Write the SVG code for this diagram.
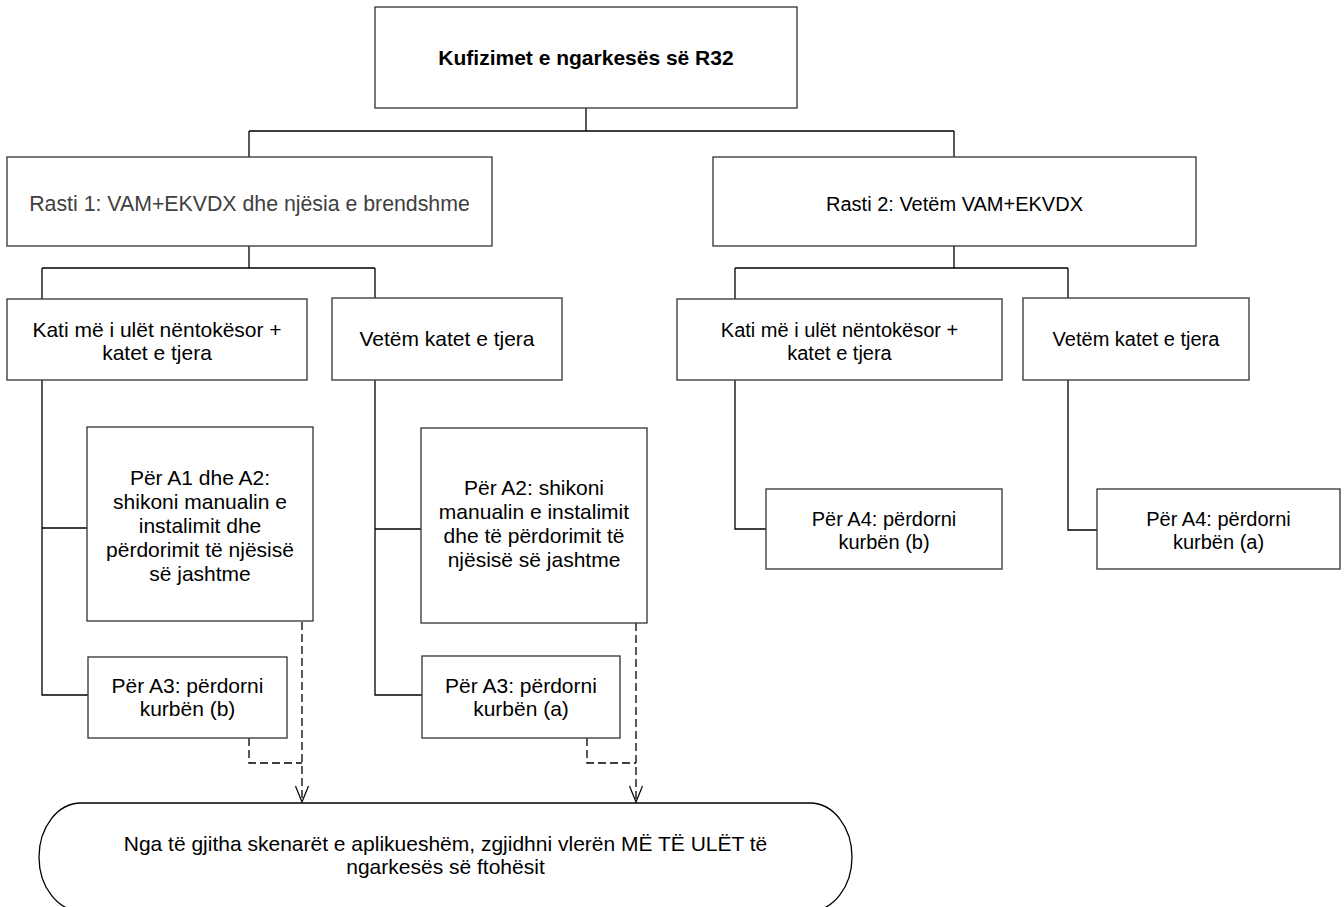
<svg xmlns="http://www.w3.org/2000/svg" width="1344" height="907" viewBox="0 0 1344 907">
<defs>
<style>
.box{fill:#fff;stroke:#404040;stroke-width:1.4}
.t{font-family:"Liberation Sans",Arial,sans-serif;font-size:21px;fill:#000;text-anchor:middle}
.r{font-size:20px}
.g{fill:#404040}
.b{font-weight:bold}
.c{fill:none;stroke:#000;stroke-width:1.3}
.d{fill:none;stroke:#000;stroke-width:1.3;stroke-dasharray:8 4}
</style>
<marker id="arr" markerWidth="18" markerHeight="16" refX="17" refY="8" orient="auto" markerUnits="userSpaceOnUse" viewBox="0 0 18 16">
<path d="M1,1.5 L17,8 L1,14.5" fill="none" stroke="#000" stroke-width="1.2"/>
</marker>
</defs>
<rect width="1344" height="907" fill="#fff"/>
<g id="connectors">
<path class="c" d="M586,108 V131 M249,131 H954 M249,131 V157 M954,131 V157"/>
<path class="c" d="M249,246 V268 M42,268 H375 M42,268 V299 M375,268 V298"/>
<path class="c" d="M954,246 V268 M735,268 H1068 M735,268 V299 M1068,268 V298"/>
<path class="c" d="M42,380 V695 H88 M42,528 H87"/>
<path class="c" d="M375,380 V695 H422 M375,529 H421"/>
<path class="c" d="M735,380 V529 H766"/>
<path class="c" d="M1068,380 V530 H1097"/>
<path class="d" d="M302,622 V802" marker-end="url(#arr)"/>
<path class="d" d="M249,738 V763 H302"/>
<path class="d" d="M636,623 V802" marker-end="url(#arr)"/>
<path class="d" d="M587,738 V763 H636"/>
</g>
<g id="n-title">
<rect class="box" x="375" y="7" width="422" height="101"/>
<text class="t b" x="586" y="65">Kufizimet e ngarkesës së R32</text>
</g>
<g id="n-case1">
<rect class="box" x="7" y="157" width="485" height="89"/>
<text class="t g" x="249.5" y="211" style="font-size:21.3px">Rasti 1: VAM+EKVDX dhe njësia e brendshme</text>
</g>
<g id="n-case2">
<rect class="box" x="713" y="157" width="483" height="89"/>
<text class="t r" x="954.5" y="211">Rasti 2: Vetëm VAM+EKVDX</text>
</g>
<g id="n-c1-kati">
<rect class="box" x="7" y="299" width="300" height="81"/>
<text class="t" x="157" y="337">Kati më i ulët nëntokësor +</text>
<text class="t" x="157" y="360">katet e tjera</text>
</g>
<g id="n-c1-vetem">
<rect class="box" x="332" y="298" width="230" height="82"/>
<text class="t" x="447" y="346">Vetëm katet e tjera</text>
</g>
<g id="n-c2-kati">
<rect class="box" x="677" y="299" width="325" height="81"/>
<text class="t r" x="839.5" y="337">Kati më i ulët nëntokësor +</text>
<text class="t r" x="839.5" y="360">katet e tjera</text>
</g>
<g id="n-c2-vetem">
<rect class="box" x="1023" y="298" width="226" height="82"/>
<text class="t r" x="1136" y="346">Vetëm katet e tjera</text>
</g>
<g id="n-a1a2">
<rect class="box" x="87" y="427" width="226" height="194"/>
<text class="t" x="200" y="485">Për A1 dhe A2:</text>
<text class="t" x="200" y="509">shikoni manualin e</text>
<text class="t" x="200" y="533">instalimit dhe</text>
<text class="t" x="200" y="557">përdorimit të njësisë</text>
<text class="t" x="200" y="581">së jashtme</text>
</g>
<g id="n-a2">
<rect class="box" x="421" y="428" width="226" height="195"/>
<text class="t" x="534" y="495">Për A2: shikoni</text>
<text class="t" x="534" y="519">manualin e instalimit</text>
<text class="t" x="534" y="543">dhe të përdorimit të</text>
<text class="t" x="534" y="567">njësisë së jashtme</text>
</g>
<g id="n-a3b">
<rect class="box" x="88" y="657" width="199" height="81"/>
<text class="t" x="187.5" y="693">Për A3: përdorni</text>
<text class="t" x="187.5" y="716">kurbën (b)</text>
</g>
<g id="n-a3a">
<rect class="box" x="422" y="656" width="198" height="82"/>
<text class="t" x="521" y="693">Për A3: përdorni</text>
<text class="t" x="521" y="716">kurbën (a)</text>
</g>
<g id="n-a4b">
<rect class="box" x="766" y="489" width="236" height="80"/>
<text class="t r" x="884" y="526">Për A4: përdorni</text>
<text class="t r" x="884" y="549">kurbën (b)</text>
</g>
<g id="n-a4a">
<rect class="box" x="1097" y="489" width="243" height="80"/>
<text class="t r" x="1218.5" y="526">Për A4: përdorni</text>
<text class="t r" x="1218.5" y="549">kurbën (a)</text>
</g>
<g id="n-end">
<rect x="39" y="803" width="813" height="108" rx="42" ry="54" fill="#fff" stroke="#000" stroke-width="1.3"/>
<text class="t" x="445.5" y="851">Nga të gjitha skenarët e aplikueshëm, zgjidhni vlerën MË TË ULËT të</text>
<text class="t" x="445.5" y="874">ngarkesës së ftohësit</text>
</g>
</svg>
